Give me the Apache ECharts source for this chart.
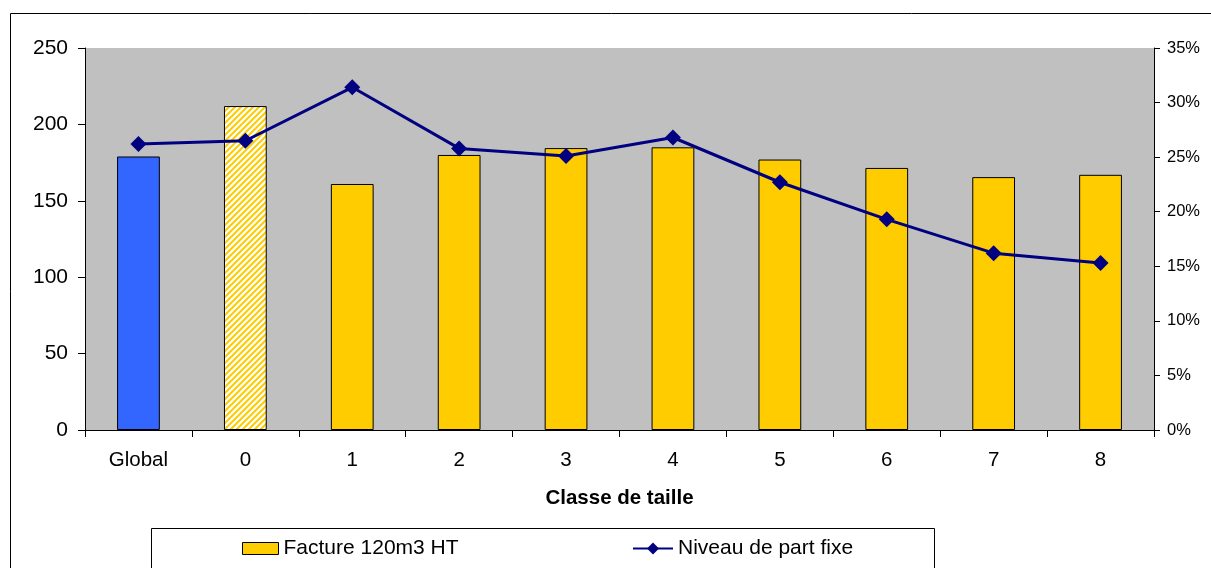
<!DOCTYPE html>
<html>
<head>
<meta charset="utf-8">
<script src="https://cdn.jsdelivr.net/npm/echarts@6/dist/echarts.min.js"></script>
<style>
html,body{margin:0;padding:0;background:#fff;}
#chart{width:1211px;height:568px;}
</style>
</head>
<body>
<div id="chart"></div>
<script>
const categories = ['Global','0','1','2','3','4','5','6','7','8'];
const facture = [179, 212, 161, 180, 184.5, 185, 177, 171.5, 165.5, 167];
const partFixe = [26.2, 26.5, 31.4, 25.8, 25.1, 26.8, 22.7, 19.3, 16.2, 15.3];
const leftTicks = [0, 50, 100, 150, 200, 250];
const rightTicks = [0, 5, 10, 15, 20, 25, 30, 35];

const FONT = '"Liberation Sans", Arial, sans-serif';

function hatch() {
  const c = document.createElement('canvas');
  c.width = 6; c.height = 6;
  const g = c.getContext('2d');
  g.fillStyle = '#ffffff';
  g.fillRect(0, 0, 6, 6);
  g.strokeStyle = '#FFCC00';
  g.lineWidth = 2;
  g.beginPath();
  g.moveTo(-1, 7); g.lineTo(7, -1);
  g.moveTo(-4, 4); g.lineTo(4, -4);
  g.moveTo(2, 10); g.lineTo(10, 2);
  g.stroke();
  return c;
}

const barData = facture.map((v, i) => {
  if (i === 0) return { value: v, itemStyle: { color: '#3366FF' } };
  if (i === 1) return { value: v, itemStyle: { color: { image: hatch(), repeat: 'repeat' } } };
  return v;
});

const chart = echarts.init(document.getElementById('chart'), null, { renderer: 'canvas' });
chart.setOption({
  animation: false,
  backgroundColor: '#ffffff',
  textStyle: { fontFamily: FONT },
  grid: { left: 85, right: 57, top: 48, bottom: 138, containLabel: false,
          show: true, backgroundColor: '#C0C0C0', borderWidth: 0 },
  graphic: [
    { type: 'rect', shape: { x: 10.5, y: 13.5, width: 1300, height: 700 },
      style: { fill: 'none', stroke: '#000', lineWidth: 1 }, z: -10 },
    { type: 'rect', shape: { x: 151.5, y: 528.5, width: 783, height: 60 },
      style: { fill: '#fff', stroke: '#000', lineWidth: 1 }, z: 0 }
  ],
  legend: [
    { data: [{ name: 'Facture 120m3 HT', icon: 'rect' }], left: 237, top: 533, itemWidth: 36, itemHeight: 12, itemGap: 8,
      textStyle: { fontFamily: FONT, fontSize: 21, color: '#000' }, z: 5,
      itemStyle: { borderColor: '#000', borderWidth: 1 } },
    { data: ['Niveau de part fixe'], left: 627, top: 533, itemWidth: 40, itemHeight: 15, itemGap: 5,
      textStyle: { fontFamily: FONT, fontSize: 21, color: '#000' }, z: 5 }
  ],
  xAxis: {
    type: 'category',
    data: categories,
    boundaryGap: true,
    name: 'Classe de taille',
    nameLocation: 'middle',
    nameGap: 58,
    nameTextStyle: { fontFamily: FONT, fontSize: 20.5, fontWeight: 'bold', color: '#000' },
    axisLine: { lineStyle: { color: '#000', width: 1 } },
    axisTick: { show: true, alignWithLabel: false, length: 7, lineStyle: { color: '#000' } },
    axisLabel: { fontFamily: FONT, fontSize: 20.5, color: '#000', margin: 20 },
    splitLine: { show: false }
  },
  yAxis: [
    {
      type: 'value', min: 0, max: 250, interval: 50,
      axisLine: { show: true, lineStyle: { color: '#000' } },
      axisTick: { show: true, length: 7, lineStyle: { color: '#000' } },
      axisLabel: { fontFamily: FONT, fontSize: 21, color: '#000', margin: 17 },
      splitLine: { show: false }
    },
    {
      type: 'value', min: 0, max: 35, interval: 5, position: 'right',
      axisLine: { show: true, lineStyle: { color: '#000' } },
      axisTick: { show: true, length: 6, lineStyle: { color: '#000' } },
      axisLabel: { fontFamily: FONT, fontSize: 16.5, color: '#000', margin: 13, formatter: '{value}%' },
      splitLine: { show: false }
    }
  ],
  series: [
    {
      name: 'Facture 120m3 HT',
      type: 'bar',
      yAxisIndex: 0,
      data: barData,
      barWidth: '40%',
      itemStyle: { color: '#FFCC00', borderColor: '#000', borderWidth: 1 },
      z: 2
    },
    {
      name: 'Niveau de part fixe',
      type: 'line',
      yAxisIndex: 1,
      data: partFixe,
      symbol: 'diamond',
      symbolSize: 16,
      lineStyle: { color: '#000080', width: 3 },
      itemStyle: { color: '#000080' },
      z: 3
    }
  ]
});
</script>
</body>
</html>
